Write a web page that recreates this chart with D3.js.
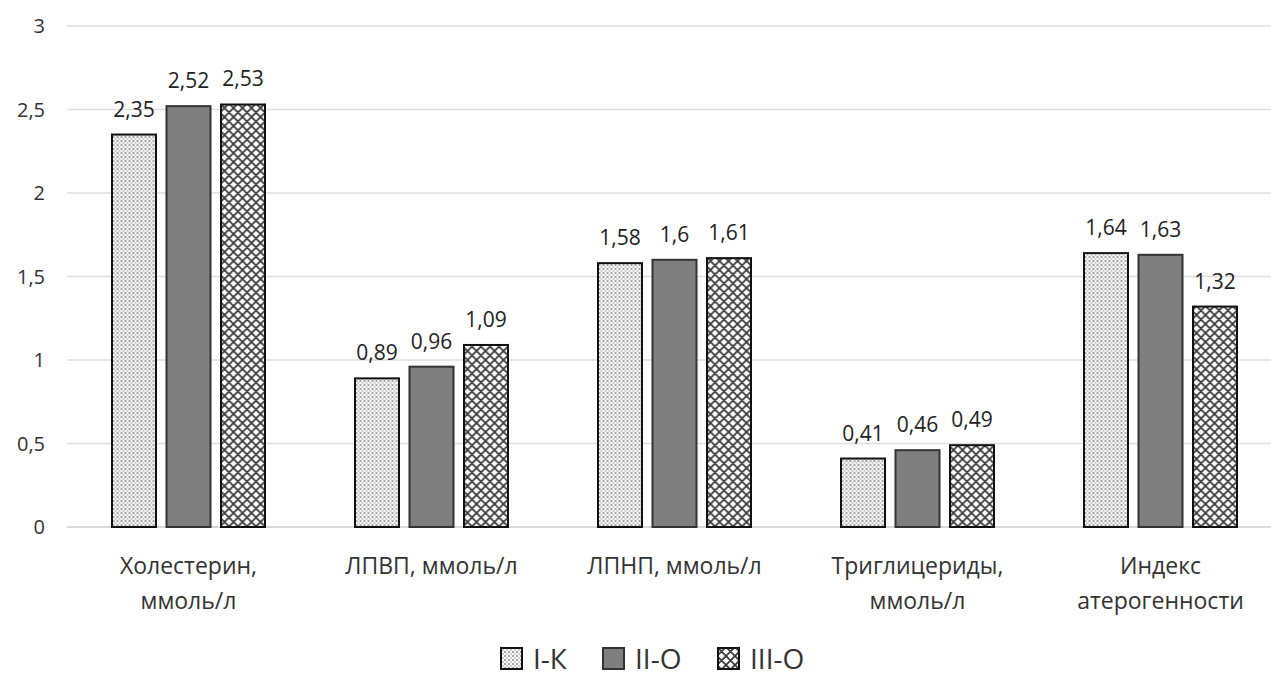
<!DOCTYPE html>
<html><head><meta charset="utf-8">
<script src="https://cdn.jsdelivr.net/npm/d3@7"></script>
<style>body{margin:0;background:#fff;} svg{display:block;}</style>
</head><body>
<svg id="c" width="1271" height="678"></svg>
<script>
const categories = [["Холестерин,","ммоль/л"],["ЛПВП, ммоль/л"],["ЛПНП, ммоль/л"],["Триглицериды,","ммоль/л"],["Индекс","атерогенности"]];
const seriesNames = ["I-К","II-О","III-О"];
const valsI = [2.35,0.89,1.58,0.41,1.64];
const valsII = [2.52,0.96,1.6,0.46,1.63];
const valsIII = [2.53,1.09,1.61,0.49,1.32];
const yTicks = [0,0.5,1,1.5,2,2.5,3];

const font = "'Open Sans', sans-serif";
const svg = d3.select("#c");
const defs = svg.append("defs");
// dotted pattern
const pd = defs.append("pattern").attr("id","pDot").attr("patternUnits","userSpaceOnUse").attr("width",4).attr("height",4);
pd.append("rect").attr("width",4).attr("height",4).attr("fill","#fafafa");
pd.append("rect").attr("x",0).attr("y",0).attr("width",2).attr("height",2).attr("fill","#a8a8a8");
pd.append("rect").attr("x",2).attr("y",2).attr("width",2).attr("height",2).attr("fill","#cfcfcf");
// crosshatch
const P = 9;
const pc = defs.append("pattern").attr("id","pX").attr("patternUnits","userSpaceOnUse").attr("width",P).attr("height",P);
pc.append("rect").attr("width",P).attr("height",P).attr("fill","#fff");
pc.append("path").attr("d",`M0,0L${P},${P}M${P},0L0,${P}M-1,${P-1}L1,${P+1}M${P-1},-1L${P+1},1M-1,1L1,-1M${P-1},${P+1}L${P+1},${P-1}`)
  .attr("stroke","#3a3a3a").attr("stroke-width",1.8);
const fills = ["url(#pDot)","#7f7f7f","url(#pX)"];
const strokes = ["#111","#333","#111"];

const x0 = d3.scaleBand().domain(d3.range(categories.length)).range([67,1282]);
const y = d3.scaleLinear().domain([0,3]).range([527,26]);

// grid
svg.append("g").selectAll("line").data(yTicks).join("line")
  .attr("x1",67).attr("x2",1271).attr("y1",d=>y(d)).attr("y2",d=>y(d))
  .attr("stroke",d=>d===0?"#cccccc":"#dedede").attr("stroke-width",1.3);
svg.append("g").selectAll("text").data(yTicks).join("text")
  .attr("x",45).attr("y",d=>y(d)).attr("dy","0.36em").attr("text-anchor","end")
  .attr("font-family",font).attr("font-size",20).attr("fill","#333")
  .text(d=>String(d).replace(".",","));

const data = categories.map((c,i)=>({i, vals:[valsI[i],valsII[i],valsIII[i]]}));
const barW = 44, step = 54.5;
const g = svg.append("g").selectAll("g").data(data).join("g")
  .attr("transform",d=>`translate(${x0(d.i)+x0.bandwidth()/2},0)`);
g.selectAll("rect").data(d=>d.vals.map((v,k)=>({v,k}))).join("rect")
  .attr("x",d=>(d.k-1)*step-barW/2).attr("width",barW)
  .attr("y",d=>y(d.v)).attr("height",d=>y(0)-y(d.v))
  .attr("fill",d=>fills[d.k]).attr("stroke",d=>strokes[d.k]).attr("stroke-width",2);
g.selectAll("text.v").data(d=>d.vals.map((v,k)=>({v,k}))).join("text").attr("class","v")
  .attr("x",d=>(d.k-1)*step).attr("y",d=>y(d.v)-18).attr("text-anchor","middle")
  .attr("font-family",font).attr("font-size",21).attr("fill","#222")
  .text(d=>String(d.v).replace(".",","));

// category labels
const cl = svg.append("g").selectAll("text").data(categories).join("text")
  .attr("x",(d,i)=>x0(i)+x0.bandwidth()/2).attr("y",574).attr("text-anchor","middle")
  .attr("font-family",font).attr("font-size",23).attr("fill","#333");
cl.selectAll("tspan").data(d=>d).join("tspan")
  .attr("x",function(){return this.parentNode.getAttribute("x");})
  .attr("dy",(d,j)=>j?35:0).text(d=>d);

// legend
const legX = [500,602,717];
const lg = svg.append("g").selectAll("g").data(seriesNames).join("g")
  .attr("transform",(d,i)=>`translate(${legX[i]},647)`);
lg.append("rect").attr("x",1).attr("y",1).attr("width",21).attr("height",21)
  .attr("fill",(d,i)=>fills[i]).attr("stroke",(d,i)=>strokes[i]).attr("stroke-width",2);
lg.append("text").attr("x",33).attr("y",22)
  .attr("font-family",font).attr("font-size",28).attr("fill","#333").text(d=>d);
</script>
</body></html>
